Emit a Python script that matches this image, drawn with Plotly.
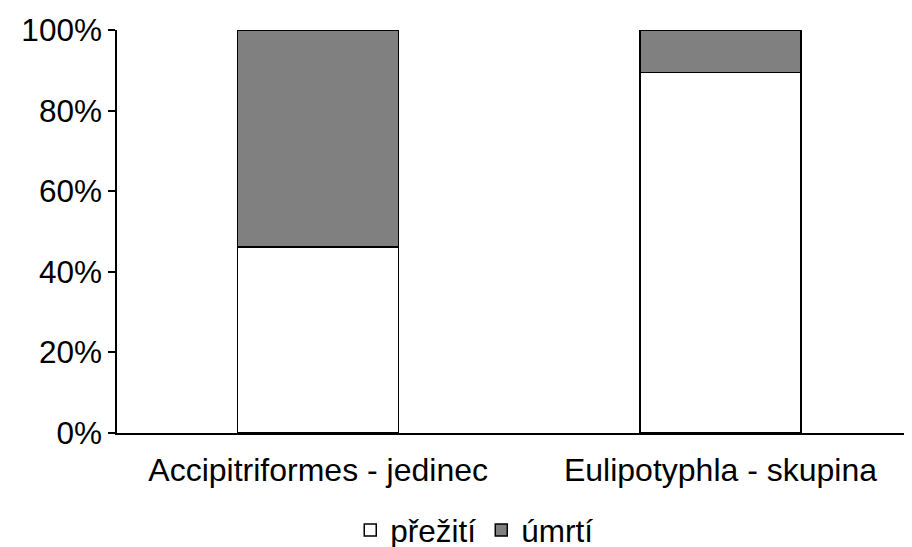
import plotly.graph_objects as go

categories = ["Accipitriformes - jedinec", "Eulipotyphla - skupina"]
survival = [0.462, 0.895]
death = [0.538, 0.105]
series_names = ["přežití", "úmrtí"]

font = dict(family="Liberation Sans, Arial, sans-serif", size=31.5, color="black")

fig = go.Figure()
fig.add_trace(go.Bar(x=categories, y=survival, name=series_names[0], width=0.4,
                     marker=dict(color="white", line=dict(color="black", width=1.5))))
fig.add_trace(go.Bar(x=categories, y=death, name=series_names[1], width=0.4,
                     marker=dict(color="#808080", line=dict(color="black", width=1.5))))

fig.update_layout(
    barmode="stack",
    width=904, height=539,
    margin=dict(l=109, r=0, t=22, b=114, autoexpand=False),
    plot_bgcolor="white", paper_bgcolor="white",
    font=font,
    showlegend=True,
    legend=dict(orientation="h", x=0.45, xanchor="center", yref="container",
                y=0.0315, yanchor="middle",
                traceorder="normal", itemwidth=30, font=font),
)
fig.update_xaxes(range=[-0.5, 1.476], showline=True, linecolor="black", linewidth=1.5,
                 ticks="", showgrid=False, zeroline=False, automargin=False,
                 ticklabelstandoff=8, tickfont=dict(size=32))
fig.update_yaxes(range=[0, 1], tickformat=".0%", dtick=0.2, ticks="outside", ticklen=7,
                 tickwidth=1.5, tickcolor="black", showline=True, linecolor="black",
                 linewidth=1.5, showgrid=False, zeroline=False, automargin=False)

fig.write_html("out.html")
